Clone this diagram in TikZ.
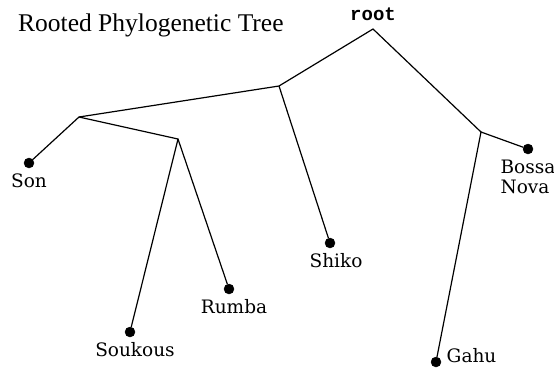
\documentclass[tikz,border=0pt]{standalone}
\usepackage{fontspec}
\setmainfont{DejaVu Serif}
\newfontfamily\titlefont{Liberation Serif}
\newfontfamily\rootfont{Liberation Mono}
\usepackage{tikz}
\usetikzlibrary{calc, positioning}
\tikzstyle{leaf}=[inner sep=0pt, draw, fill=black, shape=circle, minimum size=10pt]
\tikzstyle{split}=[coordinate]
\tikzstyle{branch}=[line width=1.2pt]
\tikzset{every label/.style={font=\fontsize{18.5}{20.5}\selectfont, label distance=2pt}}

\begin{document}
\begin{tikzpicture}[x=1pt, y=-1pt]
\useasboundingbox (0,0) rectangle (554,368);
\node[anchor=base west, inner sep=0pt, font=\titlefont\fontsize{25.5}{30}\selectfont] (title) at (18,31) {Rooted Phylogenetic Tree};
%
\node[split, label={[label distance=5pt, font=\rootfont\bfseries\fontsize{19}{22}\selectfont]90:root}] (root) at (373,29) {};
\node[split] (A) at (279,86) {};
\node[split] (B) at (79,117) {};
\node[split] (C) at (178,139) {};
\node[split] (D) at (481,132) {};
%
\node[leaf, label=270:{Son}] (son) at (29,163) {};
\node[leaf, label={[xshift=5pt]270:Soukous}] (soukous) at (130,332) {};
\node[leaf, label={[xshift=5pt]270:Rumba}] (rumba) at (229,289) {};
\node[leaf, label={[xshift=6pt]270:Shiko}] (shiko) at (330,243) {};
\node[leaf, label={[align=left]270:Bossa\\Nova}] (bossa) at (528,149) {};
\node[leaf, label={[anchor=base west, label distance=2pt]0:Gahu}] (gahu) at (436,362) {};
%
\draw[branch] (son) -- (B) -- (A) -- (root) -- (D) -- (gahu);
\draw[branch] (B) -- (C) -- (soukous);
\draw[branch] (C) -- (rumba);
\draw[branch] (A) -- (shiko);
\draw[branch] (D) -- (bossa);
\end{tikzpicture}
\end{document}
